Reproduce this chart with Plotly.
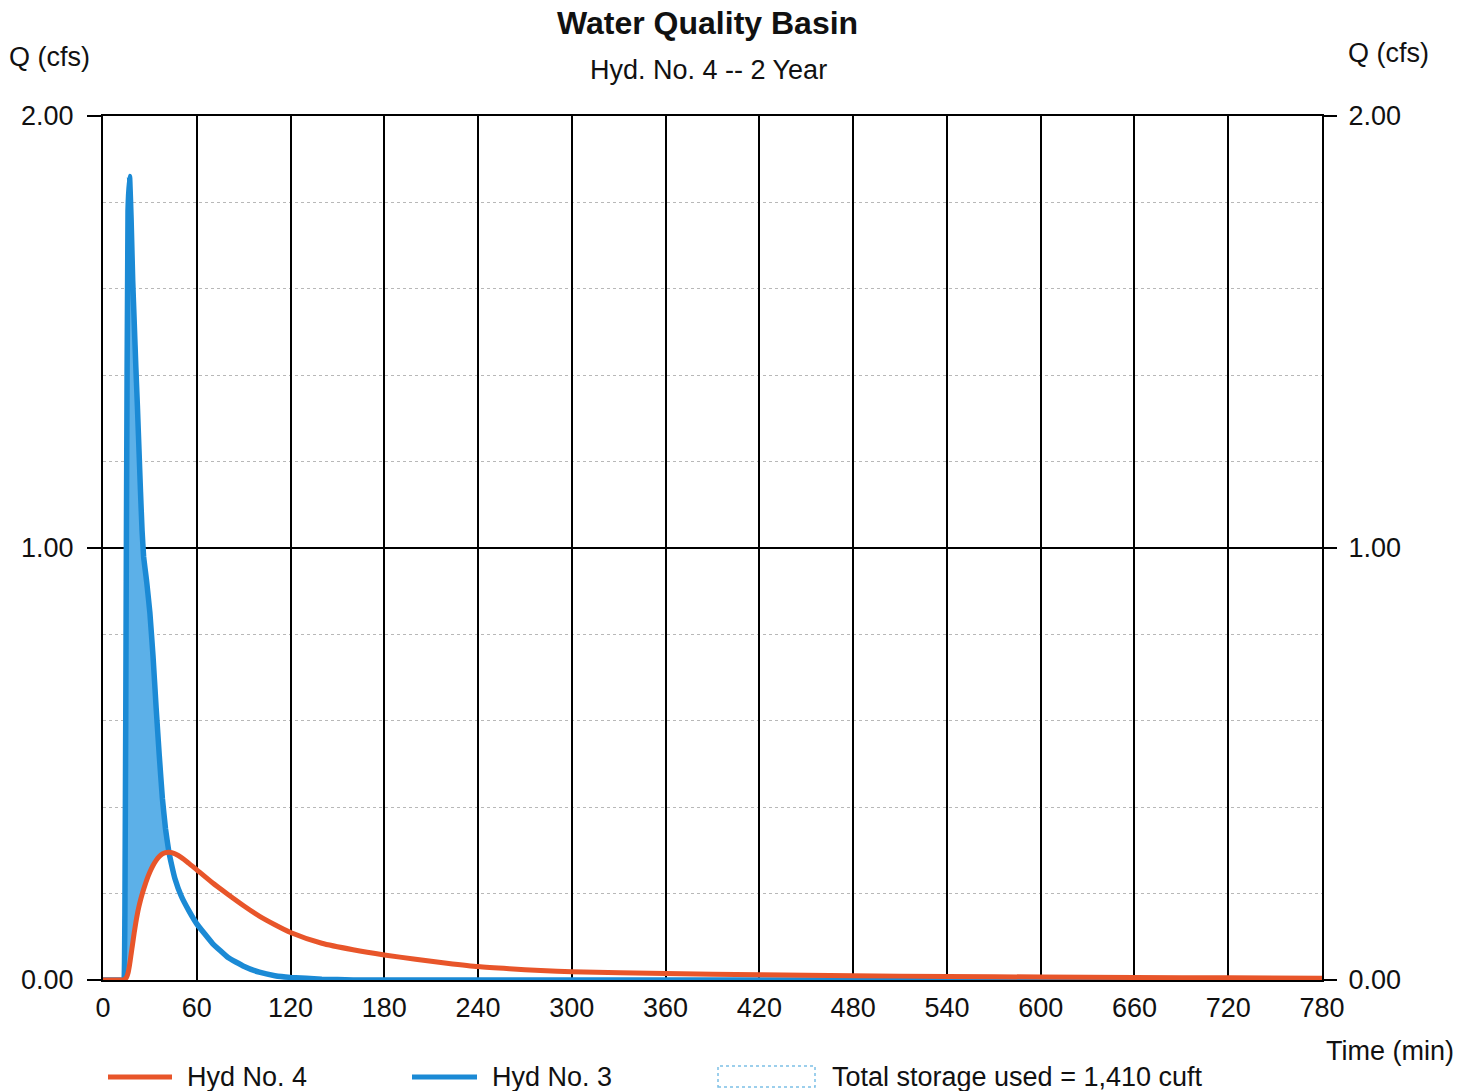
import numpy as np
import plotly.graph_objects as go

# ---------------- data ----------------
time_min = [0, 10, 13, 14, 15, 16, 17, 18, 19, 20,
            21, 22, 23, 24, 25, 26, 28, 30, 32, 34,
            36, 38, 40, 42, 44, 46, 50, 55, 60, 70,
            80, 90, 100, 110, 120, 140, 160, 180, 200, 220,
            240, 260, 280, 300, 360, 420, 480, 540, 600, 660,
            720, 780]

hyd3_inflow = [0, 0, 0, 0.15, 1.05, 1.78, 1.86, 1.76, 1.62, 1.52,
               1.42, 1.33, 1.23, 1.13, 1.04, 0.98, 0.92, 0.85, 0.75, 0.63,
               0.52, 0.42, 0.35, 0.30, 0.265, 0.235, 0.195, 0.16, 0.13, 0.085,
               0.052, 0.032, 0.018, 0.010, 0.006, 0.002, 0, 0, 0, 0,
               0, 0, 0, 0, 0, 0, 0, 0, 0, 0,
               0, 0]

hyd4_outflow = [0, 0, 0, 0.002, 0.006, 0.016, 0.035, 0.06, 0.085, 0.11,
                0.133, 0.153, 0.17, 0.185, 0.198, 0.21, 0.232, 0.25, 0.265, 0.277,
                0.286, 0.292, 0.295, 0.296, 0.295, 0.292, 0.284, 0.27, 0.255, 0.225,
                0.198, 0.172, 0.148, 0.128, 0.11, 0.085, 0.07, 0.058, 0.048, 0.039,
                0.031, 0.026, 0.022, 0.019, 0.015, 0.012, 0.010, 0.008, 0.007, 0.006,
                0.005, 0.004]

x_ticks = [0, 60, 120, 180, 240, 300, 360, 420, 480, 540, 600, 660, 720, 780]
y_ticks = [0, 1, 2]
y_tick_labels = ["0.00", "1.00", "2.00"]

title = "Water Quality Basin"
subtitle = "Hyd. No. 4 -- 2 Year"
storage_label = "Total storage used = 1,410 cuft"

# ---------------- styling ----------------
BLUE = "#1b8ad5"
FILL = "#5cb0e8"
RED = "#e8552a"
FONT = "Liberation Sans, Arial, sans-serif"
FS = 27

W_PAGE, H_PAGE = 1475, 1091
ML, MR, MT, MB = 103, 153, 116, 111
PW = W_PAGE - ML - MR
PH = H_PAGE - MT - MB


def px_x(p):
    return (p - ML) / PW


def px_y(p):
    return (H_PAGE - MB - p) / PH


# ---------------- storage polygon (between inflow and outflow) ----------------
t = np.array(time_min, dtype=float)
qi = np.array(hyd3_inflow, dtype=float)
qo = np.array(hyd4_outflow, dtype=float)
peak = int(np.argmax(qi))
k = peak
while k < len(t) and qi[k] >= qo[k]:
    k += 1
d0 = qi[k - 1] - qo[k - 1]
d1 = qi[k] - qo[k]
f = d0 / (d0 - d1)
tc = t[k - 1] + f * (t[k] - t[k - 1])
qc = qo[k - 1] + f * (qo[k] - qo[k - 1])
poly_x = list(t[:k]) + [tc] + list(t[:k][::-1])
poly_y = list(qi[:k]) + [qc] + list(qo[:k][::-1])

fig = go.Figure()
fig.add_trace(go.Scatter(x=poly_x, y=poly_y, fill="toself", fillcolor=FILL,
                         line=dict(width=0), mode="lines", hoverinfo="skip",
                         showlegend=False))
fig.add_trace(go.Scatter(x=time_min, y=hyd3_inflow, mode="lines",
                         line=dict(color=BLUE, width=5.5, shape="spline", smoothing=0.3),
                         name="Hyd No. 3", showlegend=False))
fig.add_trace(go.Scatter(x=time_min, y=hyd4_outflow, mode="lines",
                         line=dict(color=RED, width=5, shape="spline", smoothing=0.6),
                         name="Hyd No. 4", showlegend=False))
fig.add_trace(go.Scatter(x=[0], y=[0], yaxis="y2", mode="markers",
                         marker=dict(opacity=0), hoverinfo="skip", showlegend=False))

fig.update_layout(
    width=W_PAGE, height=H_PAGE,
    margin=dict(l=ML, r=MR, t=MT, b=MB, pad=0),
    paper_bgcolor="white", plot_bgcolor="white",
    font=dict(family=FONT, size=FS, color="#111"),
    xaxis=dict(range=[0, 780], tickvals=x_ticks, ticktext=[str(v) for v in x_ticks],
               showgrid=True, gridcolor="black", gridwidth=2,
               showline=True, linecolor="black", linewidth=2, mirror=True,
               zeroline=False, ticks="", ticklabelstandoff=3,
               tickfont=dict(size=FS)),
    yaxis=dict(range=[0, 2], tickvals=y_ticks, ticktext=y_tick_labels,
               showgrid=True, gridcolor="black", gridwidth=2,
               showline=True, linecolor="black", linewidth=2, mirror=True,
               zeroline=False, ticks="outside", ticklen=14, tickwidth=2,
               tickcolor="black", ticklabelstandoff=8,
               tickfont=dict(size=FS),
               minor=dict(dtick=0.2, tick0=0, showgrid=True, gridcolor="#b8b8b8",
                          griddash="dot", gridwidth=1, ticks="")),
    yaxis2=dict(range=[0, 2], tickvals=y_ticks, ticktext=y_tick_labels,
                overlaying="y", side="right", showgrid=False, zeroline=False,
                ticks="outside", ticklen=14, tickwidth=2, tickcolor="black",
                ticklabelstandoff=6, tickfont=dict(size=FS)),
)

ann = []
ann.append(dict(text="<b>" + title + "</b>", x=px_x(707), y=px_y(23), xref="paper", yref="paper",
                showarrow=False, font=dict(size=32, family=FONT, color="#111"),
                xanchor="center", yanchor="middle"))
ann.append(dict(text=subtitle, x=px_x(708), y=px_y(70), xref="paper", yref="paper",
                showarrow=False, font=dict(size=27, family=FONT, color="#111"),
                xanchor="center", yanchor="middle"))
ann.append(dict(text="Q (cfs)", x=px_x(7), y=px_y(57), xref="paper", yref="paper",
                showarrow=False, font=dict(size=FS, family=FONT, color="#111"),
                xanchor="left", yanchor="middle"))
ann.append(dict(text="Q (cfs)", x=px_x(1346), y=px_y(53), xref="paper", yref="paper",
                showarrow=False, font=dict(size=FS, family=FONT, color="#111"),
                xanchor="left", yanchor="middle"))
ann.append(dict(text="Time (min)", x=px_x(1456), y=px_y(1051), xref="paper", yref="paper",
                showarrow=False, font=dict(size=FS, family=FONT, color="#111"),
                xanchor="right", yanchor="middle"))

LEG_Y = 1077
shapes = []
legend_items = [(108, 172, RED, "Hyd No. 4", 185), (412, 477, BLUE, "Hyd No. 3", 490)]
for x0, x1, col, lab, tx in legend_items:
    shapes.append(dict(type="line", xref="paper", yref="paper",
                       x0=px_x(x0), x1=px_x(x1), y0=px_y(LEG_Y), y1=px_y(LEG_Y),
                       line=dict(color=col, width=5)))
    ann.append(dict(text=lab, x=px_x(tx), y=px_y(LEG_Y), xref="paper", yref="paper",
                    showarrow=False, font=dict(size=FS, family=FONT, color="#111"),
                    xanchor="left", yanchor="middle"))
shapes.append(dict(type="rect", xref="paper", yref="paper",
                   x0=px_x(718), x1=px_x(815), y0=px_y(1087), y1=px_y(1066),
                   line=dict(color="#7cc0e6", width=1.5, dash="dot"), fillcolor="white"))
ann.append(dict(text=storage_label, x=px_x(830), y=px_y(LEG_Y), xref="paper", yref="paper",
                showarrow=False, font=dict(size=FS, family=FONT, color="#111"),
                xanchor="left", yanchor="middle"))

fig.update_layout(annotations=ann, shapes=shapes)

fig.write_html("out.html")
